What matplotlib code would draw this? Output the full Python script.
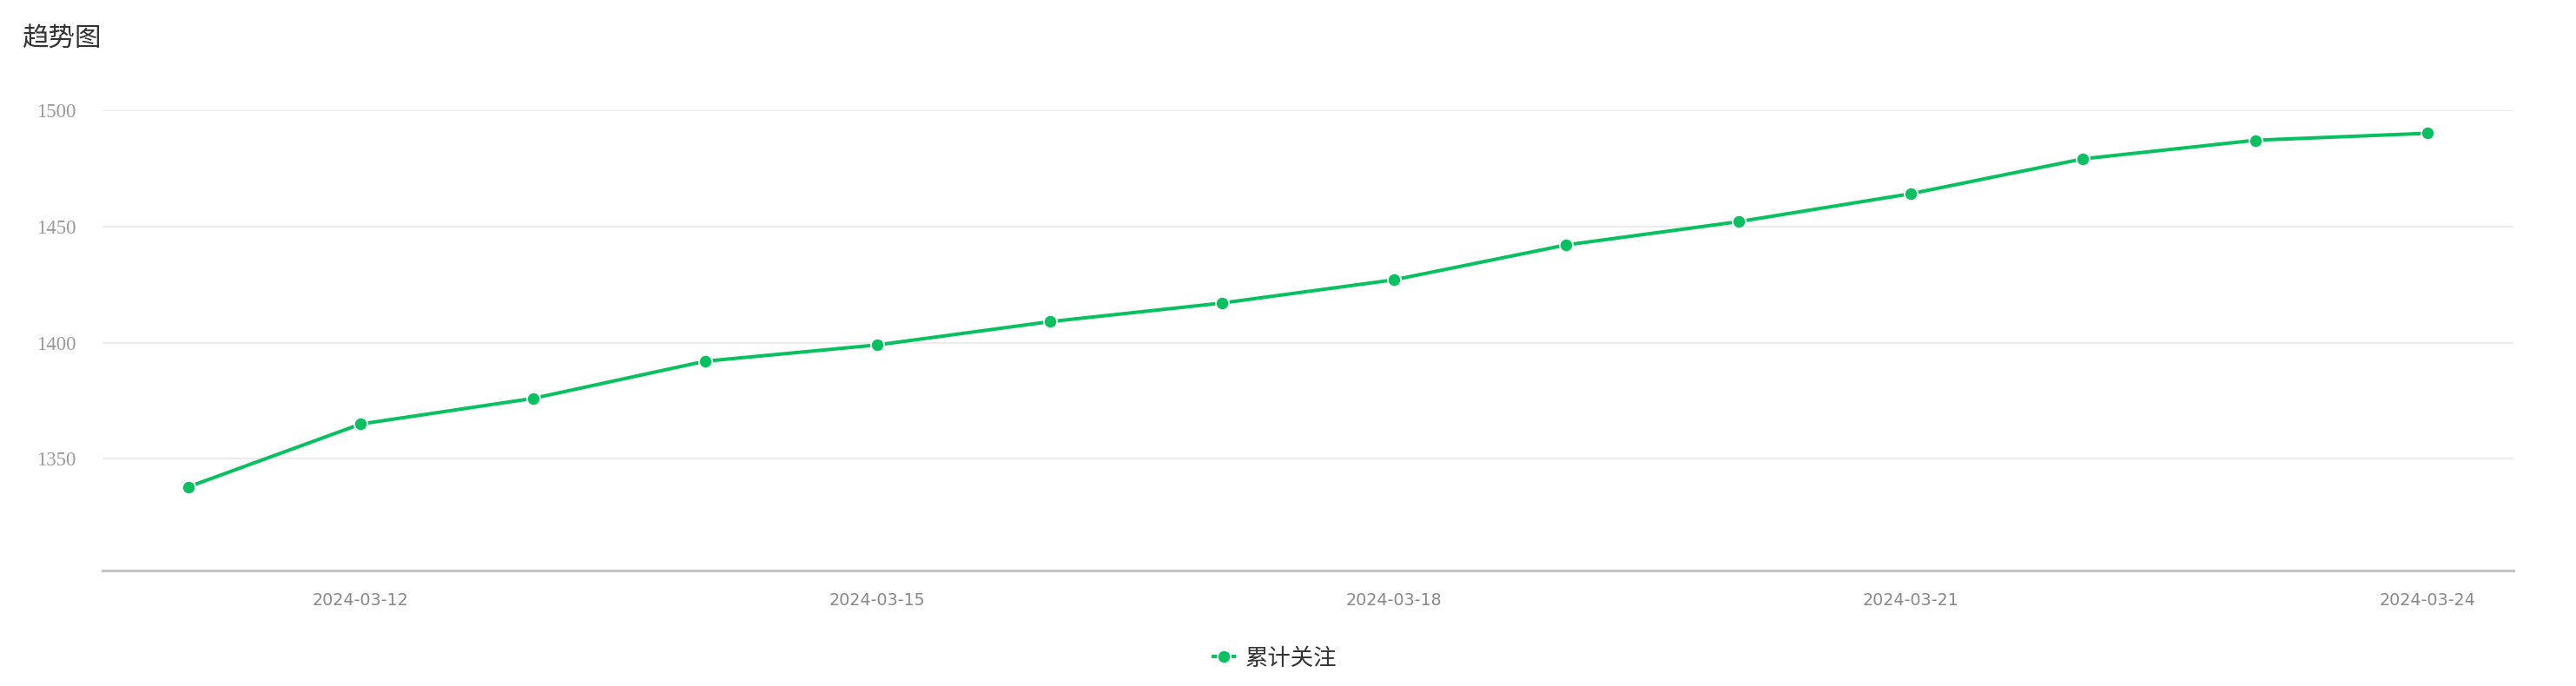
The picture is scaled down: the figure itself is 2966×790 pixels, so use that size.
import matplotlib
matplotlib.use("Agg")
import matplotlib.pyplot as plt
import numpy as np

# data
dates = ["2024-03-11", "2024-03-12", "2024-03-13", "2024-03-14", "2024-03-15",
         "2024-03-16", "2024-03-17", "2024-03-18", "2024-03-19", "2024-03-20",
         "2024-03-21", "2024-03-22", "2024-03-23", "2024-03-24"]
followers = [1338, 1365, 1376, 1392, 1399, 1409, 1417, 1427, 1442, 1452,
             1464, 1479, 1487, 1490]
y_ticks = [1350, 1400, 1450, 1500]

green = "#07c160"
cjk = ["Noto Sans CJK SC", "DejaVu Sans"]

W, H = 2966, 790
fig = plt.figure(figsize=(W / 100, H / 100), dpi=100)
ax = fig.add_axes([118 / W, 133 / H, (2894 - 118) / W, (657 - 126.7) / H])

x = np.arange(len(dates))
ax.plot(x, followers, color=green, linewidth=2.9, marker="o", markersize=11,
        markerfacecolor=green, markeredgecolor="white", markeredgewidth=1.3,
        label="累计关注", zorder=3)

ax.set_xlim(-0.5, len(dates) - 0.5)
ax.set_ylim(1302, 1500)

# x labels every third day
ax.set_xticks(x[1::3])
ax.set_xticklabels(dates[1::3], fontsize=13.8, color="#888888",
                   family="DejaVu Sans")
ax.set_yticks(y_ticks)
ax.set_yticklabels([str(v) for v in y_ticks], fontsize=16.5, color="#999999",
                   family="Liberation Serif")
ax.tick_params(axis="x", length=0, pad=18)
ax.tick_params(axis="y", length=0, pad=22)

ax.grid(axis="y", color="#ececec", linewidth=1.6)
ax.set_axisbelow(True)
for side in ["top", "right", "left"]:
    ax.spines[side].set_visible(False)
ax.spines["bottom"].set_color("#c4c4c4")
ax.spines["bottom"].set_linewidth(2.2)

fig.text(25 / W, 1 - 45 / H, "趋势图", fontsize=22, color="#333333",
         family=cjk, va="center", ha="left")

leg = fig.legend(loc="center", bbox_to_anchor=(1468 / W, 1 - 758 / H),
                 frameon=False, handlelength=0.9, handletextpad=0.5,
                 prop={"family": cjk, "size": 19})
for t in leg.get_texts():
    t.set_color("#333333")

fig.savefig("out.png", dpi=100, facecolor="white")
